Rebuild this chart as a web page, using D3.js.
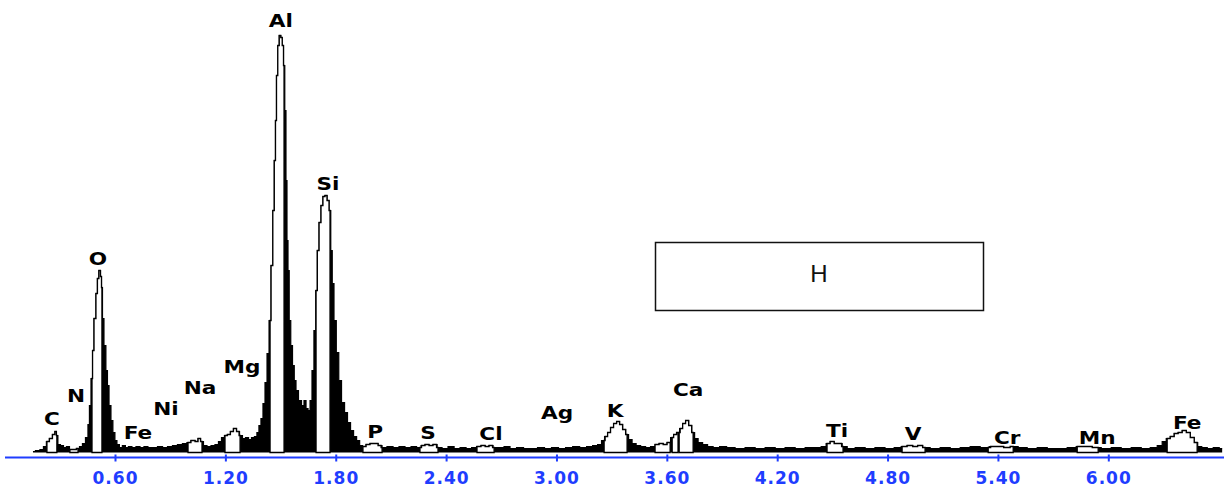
<!DOCTYPE html>
<html>
<head>
<meta charset="utf-8">
<script src="https://cdn.jsdelivr.net/npm/d3@7"></script>
<style>
  html, body { margin: 0; padding: 0; background: #fff; }
  svg { display: block; }
</style>
</head>
<body>
<svg id="chart" width="1224" height="491"></svg>
<script>
// ---- DATA (energy in keV, counts in arbitrary units) ----
const energy = [
  0.154,0.181,0.203,0.219,0.235,0.252,0.268,0.279,0.284,0.295,0.312,0.328,0.344,0.361,0.382,0.399,0.415,0.431,0.448,0.458,
  0.464,0.475,0.481,0.491,0.502,0.507,0.518,0.524,0.529,0.535,0.545,0.556,0.562,0.573,0.583,0.594,0.605,0.616,0.632,0.648,
  0.665,0.681,0.703,0.725,0.747,0.768,0.790,0.817,0.845,0.872,0.899,0.926,0.953,0.980,1.002,1.024,1.046,1.057,1.073,1.089,
  1.111,1.133,1.154,1.171,1.187,1.203,1.219,1.236,1.252,1.269,1.285,1.301,1.318,1.334,1.350,1.366,1.377,1.388,1.399,1.410,
  1.421,1.432,1.443,1.454,1.462,1.470,1.475,1.481,1.489,1.497,1.505,1.513,1.519,1.527,1.532,1.538,1.543,1.551,1.560,1.570,
  1.579,1.589,1.606,1.622,1.633,1.644,1.655,1.666,1.676,1.687,1.696,1.704,1.715,1.725,1.736,1.747,1.758,1.769,1.777,1.785,
  1.796,1.810,1.823,1.840,1.856,1.872,1.889,1.905,1.922,1.938,1.954,1.976,1.997,2.019,2.041,2.062,2.095,2.128,2.160,2.193,
  2.226,2.253,2.275,2.296,2.318,2.340,2.362,2.394,2.427,2.460,2.492,2.525,2.552,2.579,2.601,2.623,2.644,2.666,2.699,2.731,
  2.764,2.802,2.840,2.878,2.916,2.954,2.992,3.030,3.069,3.107,3.145,3.183,3.210,3.237,3.253,3.270,3.286,3.302,3.319,3.335,
  3.351,3.368,3.384,3.400,3.422,3.444,3.471,3.498,3.525,3.547,3.569,3.591,3.612,3.629,3.645,3.661,3.678,3.694,3.710,3.727,
  3.743,3.759,3.781,3.808,3.835,3.868,3.906,3.944,3.998,4.053,4.107,4.162,4.216,4.270,4.325,4.379,4.423,4.455,4.477,4.499,
  4.520,4.542,4.564,4.597,4.651,4.705,4.758,4.814,4.858,4.890,4.923,4.950,4.977,5.004,5.059,5.113,5.168,5.222,5.276,5.331,
  5.374,5.412,5.450,5.488,5.532,5.586,5.641,5.695,5.749,5.804,5.847,5.891,5.934,5.989,6.043,6.097,6.152,6.206,6.250,6.282,
  6.304,6.326,6.348,6.369,6.391,6.413,6.435,6.456,6.478,6.494,6.522,6.554,6.587,6.619
];
const counts = [
  1,2,3,6,11,14,18,21,17,8,7,5,6,3,3,4,6,9,15,28,
  47,74,102,134,159,174,182,176,165,134,107,82,67,47,32,20,12,8,5,7,
  5,6,5,6,5,6,5,5,6,5,6,7,8,9,10,12,11,14,11,7,
  6,7,8,11,15,17,18,21,24,21,17,14,15,13,15,16,20,27,34,49,
  70,99,132,187,242,292,332,377,407,417,415,407,387,342,272,212,182,132,107,87,
  72,62,52,47,52,44,42,52,82,122,162,202,230,247,256,257,252,242,202,169,
  132,100,72,50,40,30,22,16,12,7,6,8,9,9,7,5,6,5,6,5,
  6,5,7,8,7,8,5,4,6,4,5,4,5,6,7,6,7,5,5,6,
  4,5,4,4,5,4,5,4,5,6,5,6,7,8,12,16,20,25,29,31,
  28,23,18,13,9,7,6,5,6,8,9,8,10,15,18,20,24,29,32,27,
  20,14,10,8,6,5,6,5,4,5,4,5,4,5,4,5,5,6,9,11,
  9,9,6,4,5,4,5,4,5,6,7,6,7,5,4,5,4,5,6,5,
  6,6,5,6,5,4,5,4,4,5,6,6,5,4,5,4,5,4,5,7,
  11,14,16,19,20,22,20,15,10,6,5,4,5,4
];

// element regions of interest (white windows), keV
const roiStart = [0.230,0.355,0.475,0.997,1.198,1.443,1.693,1.948,2.258,2.568,3.259,3.536,3.629,3.667,4.471,4.879,5.347,5.831,6.320];
const roiEnd   = [0.284,0.399,0.529,1.073,1.280,1.519,1.769,2.052,2.356,2.661,3.384,3.618,3.661,3.743,4.558,5.004,5.483,5.945,6.483];

// peak labels
const labelText   = ["C","N","O","Fe","Ni","Na","Mg","Al","Si","P","S","Cl","Ag","K","Ca","Ti","V","Cr","Mn","Fe"];
const labelEnergy = [0.257,0.388,0.507,0.725,0.877,1.062,1.290,1.502,1.758,2.014,2.302,2.644,3.003,3.319,3.716,4.526,4.939,5.450,5.940,6.429];
const labelCount  = [34,57,194,20,44,65,86,432,269,21,20,19,40,42,63,22,19,15,15,30];

// axis ticks
const tickValues = [0.60,1.20,1.80,2.40,3.00,3.60,4.20,4.80,5.40,6.00];

// annotation box
const boxLabel = "H";

// ---- DRAW ----
const svg = d3.select("#chart");
const x = d3.scaleLinear().domain([0.6, 6.0]).range([115, 1108.3]);
const y = d3.scaleLinear().domain([0, 440]).range([452.5, 12.5]);

const data = energy.map((e, i) => ({e, c: counts[i]}));

const area = d3.area().x(d => x(d.e)).y0(y(0)).y1(d => y(d.c)).curve(d3.curveStep);
const line = d3.line().x(d => x(d.e)).y(d => y(d.c)).curve(d3.curveStep);

// black spectrum
svg.append("path").datum(data).attr("d", area).attr("fill", "#000");
svg.append("path").datum(data).attr("d", line).attr("fill", "none")
   .attr("stroke", "#000").attr("stroke-width", 1.2);

// interpolate counts at energy
function countAt(e) {
  const i = d3.bisector(d => d.e).left(data, e);
  if (i <= 0) return data[0].c;
  if (i >= data.length) return data[data.length - 1].c;
  const a = data[i - 1], b = data[i];
  return Math.abs(e - a.e) < Math.abs(b.e - e) ? a.c : b.c;
}

// white ROI windows
const roiArea = d3.area().x(d => x(d.e)).y0(y(0)).y1(d => y(d.c)).curve(d3.curveStep);
roiStart.forEach((s, k) => {
  const eEnd = roiEnd[k];
  const pts = [{e: s, c: countAt(s)}]
    .concat(data.filter(d => d.e > s && d.e < eEnd))
    .concat([{e: eEnd, c: countAt(eEnd)}]);
  svg.append("path").datum(pts).attr("d", roiArea)
     .attr("fill", "#fff").attr("stroke", "#000").attr("stroke-width", 1.3);
});

// peak labels (wide bold face: horizontally stretched)
svg.append("g").selectAll("text").data(labelText).join("text")
  .attr("transform", (d, i) => `translate(${x(labelEnergy[i])},${y(labelCount[i]) + 6.5}) scale(1.2,1)`)
  .attr("text-anchor", "middle")
  .style("font-family", "'DejaVu Sans', sans-serif")
  .style("font-weight", "bold")
  .style("font-size", "18px")
  .attr("fill", "#000")
  .text(d => d);

// axis
const blue = "#1f3dff";
svg.append("line").attr("x1", 5).attr("x2", 1224).attr("y1", 457.5).attr("y2", 457.5)
   .attr("stroke", blue).attr("stroke-width", 2);
const axis = d3.axisBottom(x).tickValues(tickValues).tickFormat(d3.format(".2f")).tickSize(4).tickPadding(0);
const gAxis = svg.append("g").attr("transform", "translate(0,457.5)").call(axis);
gAxis.select(".domain").remove();
gAxis.selectAll(".tick line").attr("y1", -3).attr("y2", 4).attr("stroke", blue).attr("stroke-width", 2);
gAxis.selectAll(".tick text")
  .attr("y", 26)
  .attr("dy", 0)
  .attr("fill", blue)
  .style("font-family", "'DejaVu Sans', sans-serif")
  .style("font-weight", "bold")
  .style("font-size", "17px")
  .style("letter-spacing", "1px");

// annotation box
svg.append("rect").attr("x", 655.5).attr("y", 242.5).attr("width", 328).attr("height", 68)
   .attr("fill", "none").attr("stroke", "#111").attr("stroke-width", 1.5);
svg.append("text").attr("x", 819).attr("y", 282)
   .attr("text-anchor", "middle")
   .style("font-family", "'Liberation Sans', Arial, sans-serif")
   .style("font-size", "24px")
   .attr("fill", "#111")
   .text(boxLabel);
</script>
</body>
</html>
